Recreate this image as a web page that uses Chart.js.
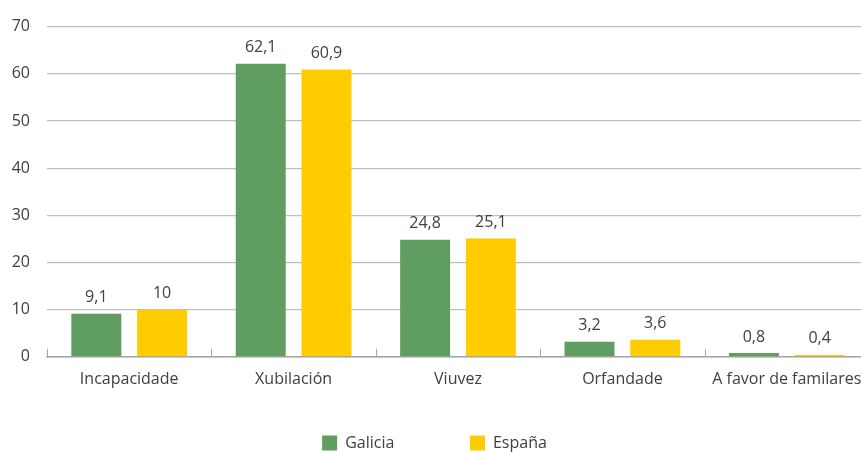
<!DOCTYPE html>
<html>
<head>
<meta charset="utf-8">
<script src="https://cdn.jsdelivr.net/npm/chart.js@4"></script>
<style>
  html, body { margin: 0; padding: 0; overflow: hidden; background: #fff; }
  #wrap { position: relative; width: 880px; height: 461px; }
</style>
</head>
<body>
<div id="wrap"><canvas id="chart"></canvas></div>
<script>
// datos
const categorias = ['Incapacidade', 'Xubilación', 'Viuvez', 'Orfandade', 'A favor de familares'];
const galicia = [9.1, 62.1, 24.8, 3.2, 0.8];
const espana = [10, 60.9, 25.1, 3.6, 0.4];
const ticksY = [0, 10, 20, 30, 40, 50, 60, 70];

const corTexto = '#404040';
const fonte = "'Open Sans', 'Noto Sans', sans-serif";

// etiquetas encima das barras + marcas do eixo X
const etiquetasPlugin = {
  id: 'etiquetas',
  afterDatasetsDraw(chart) {
    const ctx = chart.ctx;
    ctx.save();
    ctx.font = '16px ' + fonte;
    ctx.fillStyle = corTexto;
    ctx.textAlign = 'center';
    ctx.textBaseline = 'bottom';
    chart.data.datasets.forEach((ds, i) => {
      chart.getDatasetMeta(i).data.forEach((bar, j) => {
        const txt = String(ds.data[j]).replace('.', ',');
        ctx.fillText(txt, bar.x, bar.y - 8);
      });
    });
    // marcas do eixo
    const x = chart.scales.x;
    const area = chart.chartArea;
    ctx.strokeStyle = '#a6a6a6';
    ctx.lineWidth = 1;
    for (let i = 0; i <= categorias.length; i++) {
      let px;
      if (i === 0) px = area.left;
      else if (i === categorias.length) px = area.right;
      else px = (x.getPixelForValue(i - 1) + x.getPixelForValue(i)) / 2;
      px = Math.round(px) + 0.5;
      ctx.beginPath();
      ctx.moveTo(px, area.bottom - 8);
      ctx.lineTo(px, area.bottom);
      ctx.stroke();
    }
    ctx.restore();
  }
};

new Chart(document.getElementById('chart'), {
  type: 'bar',
  data: {
    labels: categorias,
    datasets: [
      { label: 'Galicia', data: galicia, backgroundColor: '#5f9e60', categoryPercentage: 0.8, barPercentage: 0.76 },
      { label: 'España', data: espana, backgroundColor: '#ffcc00', categoryPercentage: 0.8, barPercentage: 0.76 }
    ]
  },
  options: {
    responsive: true,
    maintainAspectRatio: false,
    animation: false,
    layout: { padding: { top: 24, left: 0, right: 11, bottom: 0 } },
    plugins: {
      tooltip: { enabled: false },
      legend: {
        position: 'bottom',
        labels: {
          boxWidth: 15,
          boxHeight: 15,
          padding: 41,
          color: corTexto,
          font: { family: fonte, size: 16 },
          // espazo extra entre os dous elementos da lenda
          generateLabels(chart) {
            const items = Chart.defaults.plugins.legend.labels.generateLabels(chart);
            items[0].text = items[0].text + '\u2003\u2003\u2009';
            return items;
          }
        }
      }
    },
    scales: {
      x: {
        grid: { display: false },
        border: { display: true, color: '#a6a6a6', width: 1.5 },
        ticks: { color: corTexto, padding: 5, font: { family: fonte, size: 16 }, maxRotation: 0, autoSkip: false }
      },
      y: {
        min: 0,
        max: 70,
        afterBuildTicks(scale) { scale.ticks = ticksY.map(v => ({ value: v })); },
        afterFit(scale) { scale.width = 47; },
        grid: { color: '#bfbfbf', lineWidth: 1.2, drawTicks: false },
        border: { display: false },
        ticks: { color: corTexto, padding: 17, font: { family: fonte, size: 16 } }
      }
    }
  },
  plugins: [etiquetasPlugin]
});
</script>
</body>
</html>
